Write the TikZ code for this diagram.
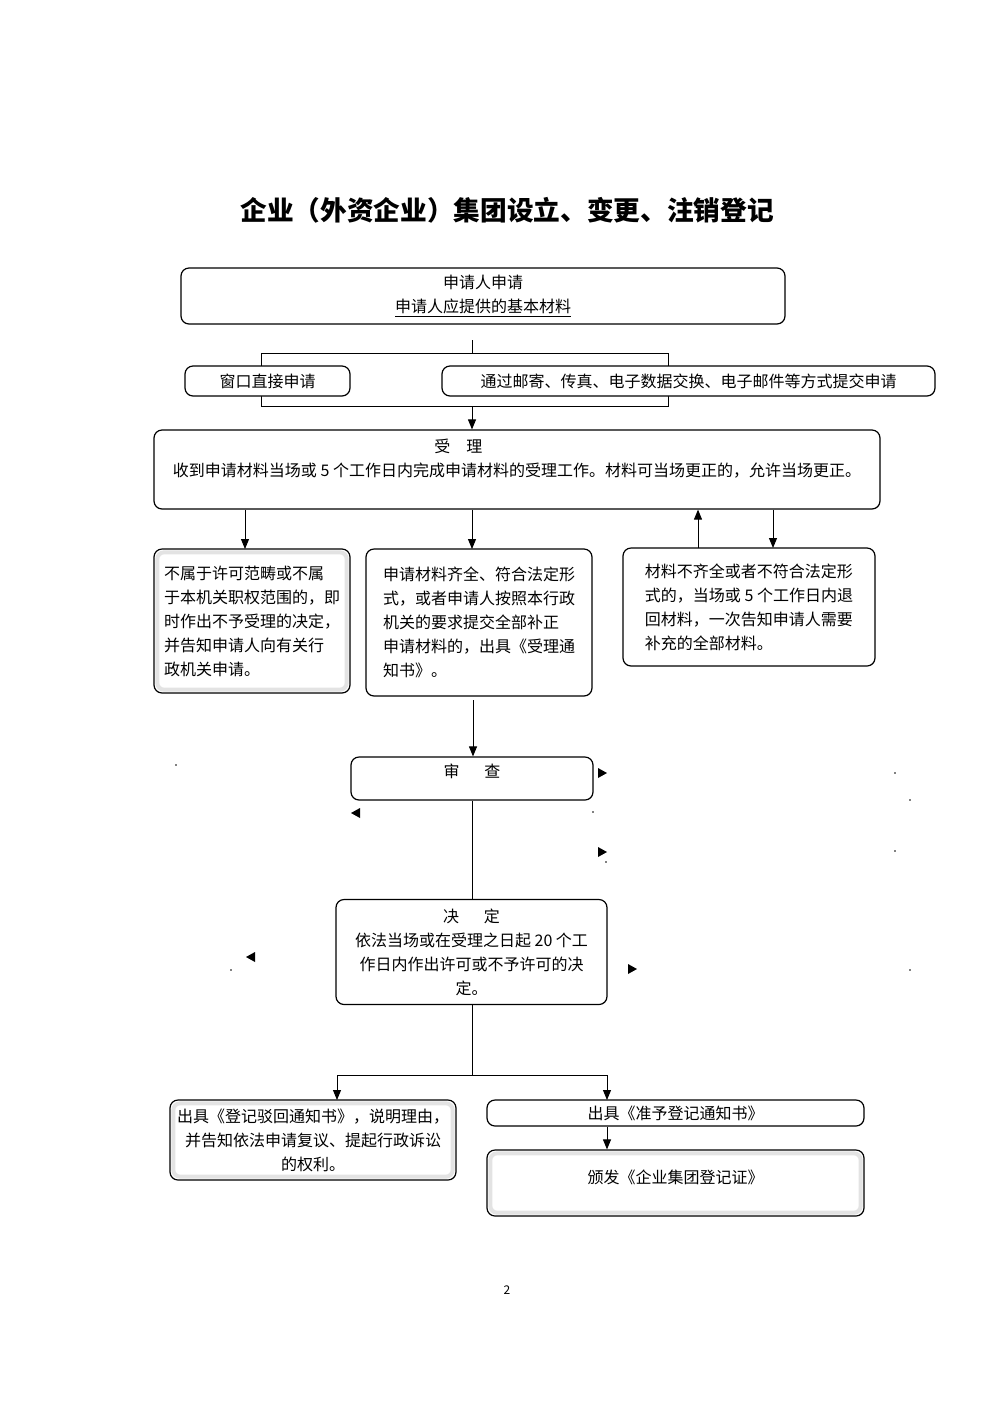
\documentclass[tikz,border=0pt]{standalone}
\usepackage{fontspec}
\setmainfont{Noto Sans CJK SC}
\usepackage{tikz}
\usetikzlibrary{arrows.meta}

\tikzset{
  box/.style={draw, line width=0.9pt, rounded corners=6pt, fill=white, align=center,
    inner sep=2pt, font=\fontsize{12}{18}\selectfont},
  shadebox/.style={box, path picture={
    \draw[gray!22, line width=3pt, rounded corners=5pt]
      ([shift={(2.5pt,2.5pt)}]path picture bounding box.south west) rectangle
      ([shift={(-2.5pt,-2.5pt)}]path picture bounding box.north east);}},
  arr/.style={-{Triangle[length=7.5pt,width=6pt]}},
  line/.style={line width=0.75pt}
}

\begin{document}
\begin{tikzpicture}[x=0.75pt, y=-0.75pt]
\useasboundingbox (0,0) rectangle (1000,1415);

% Title
\node[font=\bfseries\fontsize{20}{24}\selectfont] (title) at (507,210) {企业（外资企业）集团设立、变更、注销登记};

% Split into the two ways of applying (drawn first, boxes cover it)
\coordinate (stem) at (472,340);
\coordinate (fork) at (472,353);
\coordinate (forkL) at (261,353);
\coordinate (joinR) at (668,406);
\coordinate (join) at (472,406);
\draw[line] (stem) -- (fork);
\draw[line] (forkL) rectangle (joinR);

% Application
\node[box, minimum width=453pt, minimum height=42pt] (apply) at (483,296) {申请人申请\\\underline{申请人应提供的基本材料}};
\node[box, minimum width=123.75pt, minimum height=22.5pt] (window) at (267.5,381) {窗口直接申请};
\node[box, minimum width=369.75pt, minimum height=22.5pt] (post) at (688.5,381) {通过邮寄、传真、电子数据交换、电子邮件等方式提交申请};

% Acceptance
\node[box, minimum width=544.5pt, minimum height=59.25pt] (accept) at (517,469.5) {受\quad 理\hspace*{88pt}\\收到申请材料当场或 5 个工作日内完成申请材料的受理工作。材料可当场更正的，允许当场更正。\\\mbox{}};
\draw[line, arr] (join) -- (join |- accept.north);

% Three outcomes of acceptance
\node[shadebox, minimum width=147pt, minimum height=108pt, align=left] (reject1) at (252,621) {不属于许可范畴或不属\\于本机关职权范围的，即\\时作出不予受理的决定，\\并告知申请人向有关行\\政机关申请。};
\node[box, minimum width=169.5pt, minimum height=110.25pt, align=left] (complete) at (479,622.5) {申请材料齐全、符合法定形\\式，或者申请人按照本行政\\机关的要求提交全部补正\\申请材料的，出具《受理通\\知书》。};
\node[box, minimum width=189pt, minimum height=88.5pt, align=left] (amend) at (749,607) {材料不齐全或者不符合法定形\\式的，当场或 5 个工作日内退\\回材料，一次告知申请人需要\\补充的全部材料。};

\coordinate (a1) at (245,549);
\coordinate (a2) at (472,549);
\coordinate (a3) at (698,548);
\coordinate (a4) at (773,548);
\draw[line, arr] (a1 |- accept.south) -- (a1);
\draw[line, arr] (a2 |- accept.south) -- (a2);
\draw[line, arr] (a3) -- (a3 |- accept.south);
\draw[line, arr] (a4 |- accept.south) -- (a4);

% Review
\node[box, minimum width=181.5pt, minimum height=32.25pt] (review) at (472,778.5) {审\hspace{1.55em}查\\[-6pt]\mbox{}};
\coordinate (b1) at (473,700);
\draw[line, arr] (b1) -- (b1 |- review.north);

% Decision
\node[box, minimum width=203.25pt, minimum height=78.75pt] (decide) at (471.5,952) {决\hspace{1.55em}定\\依法当场或在受理之日起 20 个工\\作日内作出许可或不予许可的决\\定。};
\draw[line] (review.south) -- (review.south |- decide.north);

% Loose arrowheads beside review and decision
\fill (598,768) -- (607,773) -- (598,778) -- cycle;
\fill (360,808) -- (351,813) -- (360,818) -- cycle;
\fill (598,847) -- (607,852) -- (598,857) -- cycle;
\fill (255,952) -- (246,957) -- (255,962) -- cycle;
\fill (628,964) -- (637,969) -- (628,974) -- cycle;
\foreach \d in {(176,765),(895,773),(910,800),(593,812),(895,851),(606,862),(231,970),(910,970)}
  \fill \d circle (0.8);

% Results
\node[shadebox, minimum width=214.5pt, minimum height=60pt] (reject2) at (313,1140) {出具《登记驳回通知书》，说明理由，\\并告知依法申请复议、提起行政诉讼\\的权利。};
\node[box, minimum width=282.75pt, minimum height=19.5pt, inner sep=1pt] (grant) at (675.5,1113) {出具《准予登记通知书》};
\node[shadebox, minimum width=282.75pt, minimum height=49.5pt] (cert) at (675.5,1183) {颁发《企业集团登记证》\\[-8pt]\mbox{}};

\coordinate (dsplit) at (472,1075);
\coordinate (rjTop) at (337,1100);
\coordinate (grTop) at (607,1100);
\draw[line] (decide.south -| dsplit) -- (dsplit);
\draw[line, arr] (dsplit) -| (rjTop);
\draw[line, arr] (dsplit) -| (grTop);
\draw[line, arr] (grTop |- grant.south) -- (grTop |- cert.north);

% Page number
\node[font=\fontsize{9}{11}\selectfont] (page) at (507,1290) {2};
\end{tikzpicture}
\end{document}
